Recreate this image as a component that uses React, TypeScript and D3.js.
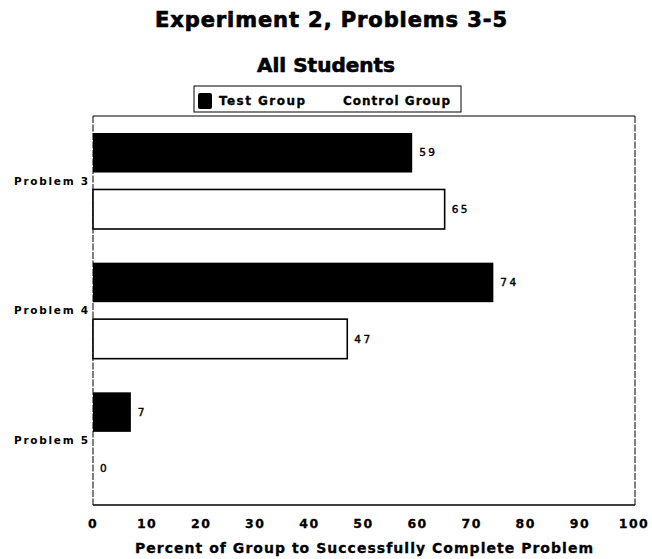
import React from "react";
import * as d3 from "d3";

const categories = ["Problem 3", "Problem 4", "Problem 5"];
const seriesNames = ["Test Group", "Control Group"];
const testValues = [59, 74, 7];
const controlValues = [65, 47, 0];
const xTicks = [0, 10, 20, 30, 40, 50, 60, 70, 80, 90, 100];

const W = 652;
const H = 559;
const FONT = "'DejaVu Sans', Verdana, sans-serif";

export default function App() {
  const left = 93, right = 634, top = 116, bottom = 505;
  const x = d3.scaleLinear().domain([0, 100]).range([left, right]);
  const y = d3.scaleBand<string>().domain(categories).range([top, bottom]);
  const sub = d3
    .scaleBand<string>()
    .domain(seriesNames)
    .range([17, 113])
    .paddingInner(0.3);

  const rows = categories.map((c, i) => ({
    cat: c,
    vals: [testValues[i], controlValues[i]],
  }));

  return (
    <svg
      width={W}
      height={H}
      style={{ position: "absolute", left: 0, top: 0, background: "#fff" }}
      fontFamily={FONT}
    >
      <rect x={0} y={0} width={W} height={H} fill="#fff" />
      {/* Titles */}
      <text x={331} y={26.5} textAnchor="middle" fontSize={21} fontWeight="bold" textLength={352} stroke="#000" strokeWidth={0.7}>
        Experiment 2, Problems 3-5
      </text>
      <text x={326} y={72} textAnchor="middle" fontSize={19} fontWeight="bold" textLength={138} lengthAdjust="spacingAndGlyphs" stroke="#000" strokeWidth={0.6}>
        All Students
      </text>

      {/* Legend */}
      <rect x={194} y={86} width={267} height={26} fill="#fff" stroke="#000" strokeWidth={1} />
      <rect x={198} y={93} width={14} height={16} rx={2} fill="#000" />
      <text x={219} y={105} fontSize={12} fontWeight="bold" textLength={86} stroke="#000" strokeWidth={0.3}>
        {seriesNames[0]}
      </text>
      <text x={343} y={105} fontSize={12} fontWeight="bold" textLength={107} stroke="#000" strokeWidth={0.3}>
        {seriesNames[1]}
      </text>

      {/* Frame */}
      <line x1={left} x2={right + 1} y1={top} y2={top} stroke="#000" strokeWidth={1.2} />
      <line x1={right + 1} x2={right + 1} y1={top} y2={bottom} stroke="#000" strokeWidth={1} strokeDasharray="7,1.5" />
      <line x1={left} x2={left} y1={top} y2={bottom} stroke="#000" strokeWidth={1} strokeDasharray="7,1.5" />
      <line x1={left} x2={right + 1} y1={bottom} y2={bottom} stroke="#000" strokeWidth={1.6} />

      {/* Bars */}
      {rows.map((r) => (
        <g key={r.cat} transform={`translate(0,${y(r.cat)})`}>
          {r.vals.map((v, j) => {
            const yy = sub(seriesNames[j])!;
            const bw = sub.bandwidth();
            const w = x(v) - x(0);
            return (
              <g key={j}>
                {v > 0 && (
                  <rect
                    x={x(0)}
                    y={yy}
                    width={w}
                    height={bw}
                    fill={j === 0 ? "#000" : "#fff"}
                    stroke="#000"
                    strokeWidth={j === 0 ? 0 : 1.6}
                  />
                )}
                <text
                  x={x(v) + 7}
                  y={yy + bw / 2}
                  dy="0.35em"
                  fontSize={10.5}
                  fontWeight="normal"
                  stroke="#000"
                  strokeWidth={0.4}
                  letterSpacing={2.5}
                >
                  {v}
                </text>
              </g>
            );
          })}
          <text
            x={88}
            y={y.bandwidth() / 2}
            dy="0.35em"
            textAnchor="end"
            fontSize={10.5}
            fontWeight="bold"
            textLength={74}
          >
            {r.cat}
          </text>
        </g>
      ))}

      {/* X tick labels */}
      {xTicks.map((t) => (
        <text
          key={t}
          x={x(t)}
          y={528}
          textAnchor="middle"
          fontSize={12.5}
          fontWeight="bold"
          letterSpacing={1.5}
          stroke="#000"
          strokeWidth={0.3}
        >
          {t}
        </text>
      ))}
      <text x={364} y={553} textAnchor="middle" fontSize={14} fontWeight="bold" textLength={458} stroke="#000" strokeWidth={0.3}>
        Percent of Group to Successfully Complete Problem
      </text>
    </svg>
  );
}
